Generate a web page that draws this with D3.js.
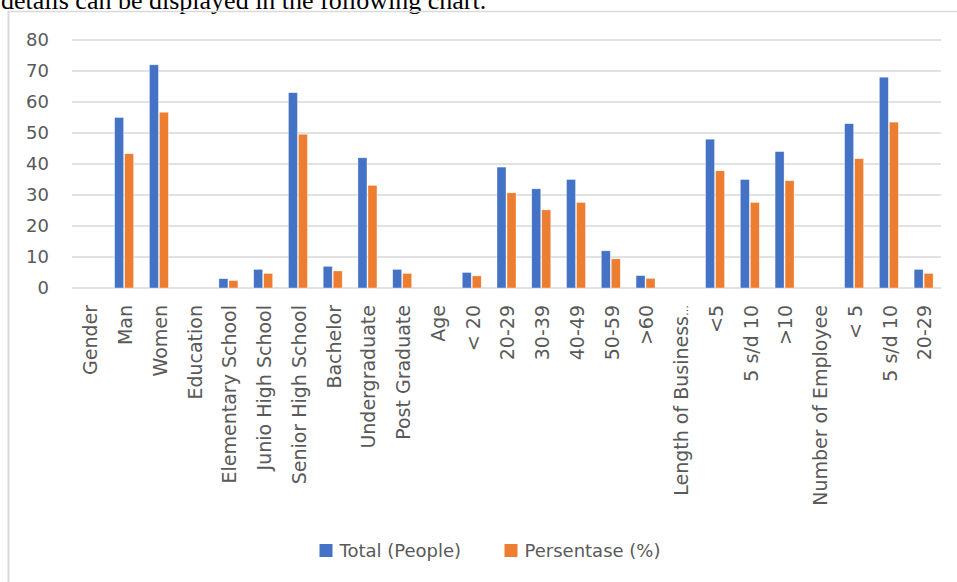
<!DOCTYPE html>
<html>
<head>
<meta charset="utf-8">
<script src="https://cdn.jsdelivr.net/npm/d3@7"></script>
<style>
    body { margin: 0; background: #fff; }
    svg { display: block; }
</style>
</head>
<body>
<div id="canvas"></div>
<script>
// categories and series
const categories = ["Gender", "Man", "Women", "Education", "Elementary School", "Junio High School",
    "Senior High School", "Bachelor", "Undergraduate", "Post Graduate", "Age", "< 20", "20-29",
    "30-39", "40-49", "50-59", ">60", "Length of Business…", "<5", "5 s/d 10", ">10",
    "Number of Employee", "< 5", "5 s/d 10 ", "20-29 "];

const totalPeople = [null, 55, 72, null, 3, 6, 63, 7, 42, 6, null, 5, 39, 32, 35, 12, 4,
    null, 48, 35, 44, null, 53, 68, 6];

const persentase = [null, 43.3, 56.7, null, 2.4, 4.7, 49.6, 5.5, 33.1, 4.7, null, 3.9, 30.7,
    25.2, 27.6, 9.4, 3.1, null, 37.8, 27.6, 34.6, null, 41.7, 53.5, 4.7];

const seriesNames = ["Total (People)", "Persentase (%)"];
const seriesColors = ["#4472C4", "#ED7D31"];
const yTicks = [0, 10, 20, 30, 40, 50, 60, 70, 80];

const width = 957;
const height = 582;
const margin = { top: 40, right: 16, bottom: 294, left: 72 };
const labelFont = "'DejaVu Sans', sans-serif";

const svg = d3.select("#canvas")
    .append("svg")
    .attr("width", width)
    .attr("height", height);

// text of the page above the chart (cut off at the top)
svg.append("text")
    .attr("x", 1)
    .attr("y", 9)
    .style("font-family", "'Liberation Serif', 'Times New Roman', serif")
    .style("font-size", "26px")
    .style("fill", "#000")
    .text("details can be displayed in the following chart.");

// chart frame (only top and left edges show)
svg.append("line")
    .attr("x1", 8).attr("x2", width)
    .attr("y1", 11.5).attr("y2", 11.5)
    .style("stroke", "#d9d9d9").style("stroke-width", 1.5);
svg.append("line")
    .attr("x1", 8.5).attr("x2", 8.5)
    .attr("y1", 11).attr("y2", height)
    .style("stroke", "#d9d9d9").style("stroke-width", 2);

const x = d3.scaleBand()
    .domain(categories)
    .range([margin.left, width - margin.right])
    .padding(0);

const y = d3.scaleLinear()
    .domain([0, 80])
    .range([height - margin.bottom, margin.top]);

// grid
svg.append("g")
    .selectAll("line")
    .data(yTicks)
    .join("line")
    .attr("x1", margin.left)
    .attr("x2", width - margin.right)
    .attr("y1", d => y(d))
    .attr("y2", d => y(d))
    .style("stroke", "#d9d9d9")
    .style("stroke-width", 1.5);

// y labels
svg.append("g")
    .selectAll("text")
    .data(yTicks)
    .join("text")
    .attr("x", 49)
    .attr("y", d => y(d))
    .attr("dy", "0.36em")
    .attr("text-anchor", "end")
    .style("font-family", labelFont)
    .style("font-size", "18px")
    .style("fill", "#595959")
    .text(d => d);

// bars
const groupW = 19;
const xs = d3.scaleBand()
    .domain([0, 1])
    .range([0, groupW])
    .paddingInner(0.1);

const barData = [];
categories.forEach((c, i) => {
    [totalPeople[i], persentase[i]].forEach((v, s) => {
        if (v != null) barData.push({ cat: c, s: s, value: v });
    });
});

svg.append("g")
    .selectAll("rect")
    .data(barData)
    .join("rect")
    .attr("x", d => x(d.cat) + (x.bandwidth() - groupW) / 2 + xs(d.s))
    .attr("width", xs.bandwidth())
    .attr("y", d => y(d.value))
    .attr("height", d => y(0) - y(d.value))
    .style("fill", d => seriesColors[d.s])
    .style("stroke", "#fff")
    .style("stroke-opacity", 0.6)
    .style("stroke-width", 0.6);

// category labels, rotated (the ellipsis is drawn smaller, like the original)
const catLabels = svg.append("g")
    .selectAll("text")
    .data(categories)
    .join("text")
    .attr("transform", d => `translate(${x(d) + x.bandwidth() / 2 + 1}, 305) rotate(-90)`)
    .attr("dy", "0.36em")
    .attr("text-anchor", "end")
    .style("font-family", labelFont)
    .style("font-size", "19px")
    .style("fill", "#595959");

catLabels.each(function (d) {
    const t = d3.select(this);
    const label = d.trim();
    if (label.endsWith("…")) {
        t.append("tspan").text(label.slice(0, -1));
        t.append("tspan").style("font-size", "11px").text("…");
    } else {
        t.text(label);
    }
});

// legend
const legendX = [319.5, 504.5];
const legend = svg.append("g")
    .selectAll("g")
    .data(seriesNames)
    .join("g")
    .attr("transform", (d, i) => `translate(${legendX[i]}, 544)`);

legend.append("rect")
    .attr("width", 13)
    .attr("height", 13)
    .style("fill", (d, i) => seriesColors[i]);

legend.append("text")
    .attr("x", 20)
    .attr("y", 13)
    .style("font-family", labelFont)
    .style("font-size", "18px")
    .style("fill", "#595959")
    .text(d => d);
</script>
</body>
</html>
